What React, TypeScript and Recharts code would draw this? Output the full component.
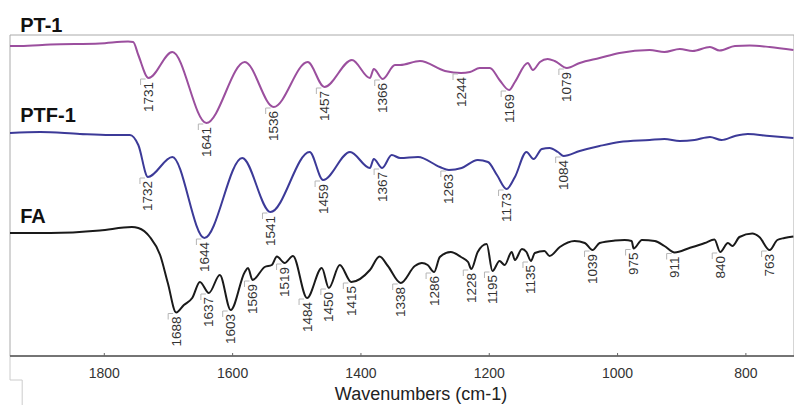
import React from 'react';
import { LineChart, Line, XAxis, YAxis, ReferenceDot, ReferenceArea, ReferenceLine } from 'recharts';

// wavenumbers (cm-1) and offset transmittance (a.u.)
const ptWavenumbers = [
  1947, 1931, 1884, 1807, 1763, 1755, 1747, 1731, 1694, 1641,
  1581, 1536, 1483, 1457, 1414, 1386, 1380, 1366, 1347, 1339,
  1308, 1269, 1244, 1230, 1215, 1199, 1184, 1169, 1160, 1140,
  1132, 1121, 1109, 1098, 1079, 1059, 1028, 997, 950, 927,
  903, 883, 856, 841, 817, 794, 763, 726,
];
const ptValues = [
  310, 310, 311.5, 312.5, 314.5, 314, 301, 278, 304, 233,
  294, 249, 294, 269, 296, 278, 287, 277, 291, 291,
  295, 285, 283, 284, 288, 288, 276, 266, 274, 293,
  286, 294, 297, 295, 288, 293, 298, 303, 306, 304,
  307, 305, 309, 305.5, 310, 310.5, 309, 306,
];
const ptPeaks = [1731, 1641, 1536, 1457, 1366, 1244, 1169, 1079];

const ptfWavenumbers = [
  1947, 1900, 1838, 1791, 1760, 1747, 1732, 1694, 1644, 1585,
  1541, 1480, 1459, 1417, 1386, 1380, 1367, 1352, 1339, 1311,
  1277, 1263, 1243, 1218, 1202, 1188, 1173, 1160, 1142, 1131,
  1118, 1106, 1093, 1084, 1059, 1028, 997, 950, 927, 903,
  880, 856, 838, 817, 797, 763, 726,
];
const ptfValues = [
  223, 224, 222, 221, 221, 211, 179, 199, 118, 198,
  144, 204, 176, 204, 188, 197, 188, 201, 198, 199,
  189, 186, 188, 196, 194, 181, 167, 179, 204, 197,
  207, 208, 204, 200, 205, 210, 214, 216, 217, 215,
  216, 219, 216, 220, 222, 220, 218,
];
const ptfPeaks = [1732, 1644, 1541, 1459, 1367, 1263, 1173, 1084];

const faWavenumbers = [
  1947, 1884, 1807, 1757, 1747, 1729, 1713, 1701, 1688, 1676,
  1663, 1651, 1637, 1620, 1603, 1581, 1576, 1569, 1550, 1539,
  1531, 1519, 1506, 1484, 1461, 1450, 1433, 1415, 1386, 1371,
  1358, 1338, 1316, 1305, 1296, 1286, 1277, 1260, 1244, 1233,
  1228, 1218, 1204, 1195, 1184, 1176, 1165, 1160, 1149, 1142,
  1135, 1129, 1114, 1106, 1090, 1067, 1051, 1039, 1028, 1004,
  989, 978, 975, 962, 942, 927, 911, 888, 864, 849,
  840, 828, 821, 810, 790, 779, 763, 751, 740, 726,
];
const faValues = [
  123, 123, 125.5, 129, 128, 119, 101, 73, 43.5, 51,
  58, 74, 63, 81, 46, 84, 88, 76, 89, 91,
  99.5, 93, 100, 58, 88, 68, 91, 74, 86, 99.5,
  90, 73, 90, 93, 91, 84, 99, 104, 99, 94,
  87, 104, 112, 85, 95, 91, 104, 96, 107, 104,
  95, 103, 105, 100, 109, 115, 113, 106, 113, 115.5,
  116, 115, 107.5, 116, 115, 110, 103.5, 108, 113, 116.5,
  104, 113, 110, 119, 122.5, 119, 106, 116, 118, 119.5,
];
const faPeaks = [
  1688, 1637, 1603, 1569, 1519, 1484, 1450, 1415, 1338,
  1286, 1228, 1195, 1135, 1039, 975, 911, 840, 763,
];

const xTicks = [1800, 1600, 1400, 1200, 1000, 800];
const seriesNames = ['PT-1', 'PTF-1', 'FA'];
const titleLevels = [324.3, 234.3, 133];

const FONT = '"Liberation Sans", Arial, sans-serif';

const build = (ws: number[], vs: number[]) => ws.map((w, i) => ({ w, v: vs[i] }));

const series = [
  { name: seriesNames[0], data: build(ptWavenumbers, ptValues), peaks: ptPeaks, color: '#9b4f9e' },
  { name: seriesNames[1], data: build(ptfWavenumbers, ptfValues), peaks: ptfPeaks, color: '#3c3a98' },
  { name: seriesNames[2], data: build(faWavenumbers, faValues), peaks: faPeaks, color: '#1a1a1a' },
];

// small gray bracket + rotated wavenumber under each band minimum
const PeakMark = ({ cx, cy, text }: { cx: number; cy: number; text: string }) => (
  <g>
    <path d={`M${cx - 8},${cy + 7} V${cy + 1} H${cx - 3}`} stroke="#b5b5b5" strokeWidth={1} fill="none" />
    <text
      transform={`translate(${cx},${cy + 4}) rotate(-90)`}
      textAnchor="end"
      dominantBaseline="central"
      fontFamily={FONT}
      fontSize={13.5}
      fill="#333"
    >
      {text}
    </text>
  </g>
);

export default function App() {
  return (
    <div style={{ position: 'absolute', left: 0, top: 0, width: 794, height: 405, background: '#fff' }}>
      <LineChart width={794} height={405} margin={{ top: 0, right: 0, bottom: 0, left: 10 }}>
        <XAxis
          dataKey="w"
          type="number"
          domain={[725, 1947]}
          reversed
          allowDataOverflow
          ticks={xTicks}
          tickLine={{ stroke: '#666' }}
          tickSize={-3}
          tickMargin={15}
          height={49}
          axisLine={{ stroke: '#555', strokeWidth: 1.5 }}
          tick={{ fill: '#333', fontSize: 14, fontFamily: FONT }}
          label={{
            value: 'Wavenumbers (cm-1)',
            position: 'insideBottom',
            offset: 5,
            dx: 19,
            fill: '#222',
            fontSize: 18,
            fontFamily: FONT,
          }}
        />
        <YAxis type="number" domain={[0, 356]} hide allowDataOverflow />
        <ReferenceArea x1={1947} x2={725} y1={0} y2={321} fill="none" stroke="#aaa" ifOverflow="visible" />
        <ReferenceLine
          segment={[{ x: 1947, y: 0 }, { x: 1947, y: -24 }]}
          stroke="#ccc"
          ifOverflow="visible"
        />
        <ReferenceLine
          segment={[{ x: 1947, y: -24 }, { x: 1928, y: -24 }]}
          stroke="#ccc"
          ifOverflow="visible"
        />
        <ReferenceLine
          segment={[{ x: 1928, y: -24 }, { x: 1928, y: -49 }]}
          stroke="#ccc"
          ifOverflow="visible"
        />
        {series.map(s => (
          <Line
            key={s.name}
            data={s.data}
            dataKey="v"
            type="monotone"
            stroke={s.color}
            strokeWidth={2}
            dot={false}
            isAnimationActive={false}
          />
        ))}
        {series.map(s =>
          s.peaks.map(p => {
            const pt = s.data.find(d => d.w === p);
            return (
              <ReferenceDot
                key={`${s.name}-${p}`}
                x={p}
                y={pt ? pt.v : 0}
                r={1}
                ifOverflow="visible"
                shape={(props: any) => <PeakMark cx={props.cx} cy={props.cy} text={String(p)} />}
              />
            );
          })
        )}
        {series.map((s, i) => (
          <ReferenceDot
            key={`title-${s.name}`}
            x={1931}
            y={titleLevels[i]}
            r={1}
            ifOverflow="visible"
            shape={(props: any) => (
              <text x={props.cx} y={props.cy} fontFamily={FONT} fontWeight="bold" fontSize={20} fill="#111">
                {s.name}
              </text>
            )}
          />
        ))}
      </LineChart>
    </div>
  );
}
